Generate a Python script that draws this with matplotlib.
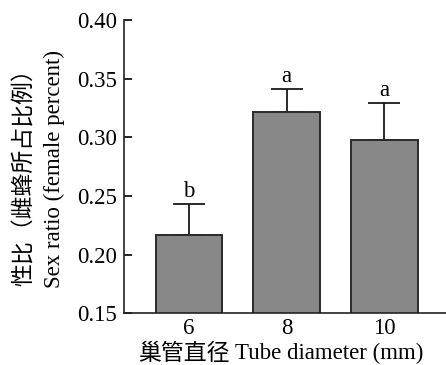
import matplotlib
matplotlib.use("Agg")
import matplotlib.pyplot as plt

categories = ["6", "8", "10"]
values = [0.217, 0.322, 0.298]
errors = [0.026, 0.019, 0.031]
letters = ["b", "a", "a"]
yticks = [0.15, 0.20, 0.25, 0.30, 0.35, 0.40]

plt.rcParams['font.family'] = ['Liberation Serif', 'Noto Sans CJK SC']

fig = plt.figure(figsize=(4.46, 3.65), dpi=100)
ax = fig.add_axes([0.278, 0.142, 0.722, 0.803])

x = list(range(len(categories)))
ax.bar(x, values, width=0.68, color='#888888', edgecolor='#2a2a2a', linewidth=1.4, zorder=2)
ax.errorbar(x, values, yerr=[[0]*3, errors], fmt='none', ecolor='#1a1a1a',
            elinewidth=1.3, capsize=11.5, capthick=1.3, zorder=1)
for xi, v, e, l in zip(x, values, errors, letters):
    ax.text(xi, v + e + 0.002, l, ha='center', va='bottom', fontsize=16.5)

ax.set_xlim(-0.665, 2.63)
ax.set_ylim(0.15, 0.40)
ax.set_yticks(yticks)
ax.set_yticklabels([f"{t:.2f}" for t in yticks])
ax.set_xticks(x)
ax.set_xticklabels(categories)
ax.spines['top'].set_visible(False)
ax.spines['right'].set_visible(False)
for s in ['left', 'bottom']:
    ax.spines[s].set_linewidth(1.2)
    ax.spines[s].set_color('#222222')
ax.tick_params(axis='y', direction='in', length=6, width=1.2, labelsize=16.5, pad=5)
ax.tick_params(axis='x', direction='in', length=5, width=1.2, labelsize=16.5, pad=3.5)

# x label (Chinese + English parts)
fig.text(230/446, 1 - 359.5/365, "巢管直径", fontsize=16.5, ha='right', va='baseline',
         family=['Noto Sans CJK SC'])
fig.text(235/446, 1 - 359.5/365, "Tube diameter (mm)", fontsize=16.5, ha='left', va='baseline')

# y label (two lines)
fig.text(24/446, 1 - 171.5/365, "性比（雌蜂所占比例）", fontsize=16.5, rotation=90,
         ha='center', va='center', family=['Noto Sans CJK SC'])
fig.text(54/446, 1 - 168.5/365, "Sex ratio (female percent)", fontsize=16.5, rotation=90,
         ha='center', va='center')

fig.savefig("out.png", dpi=100)
